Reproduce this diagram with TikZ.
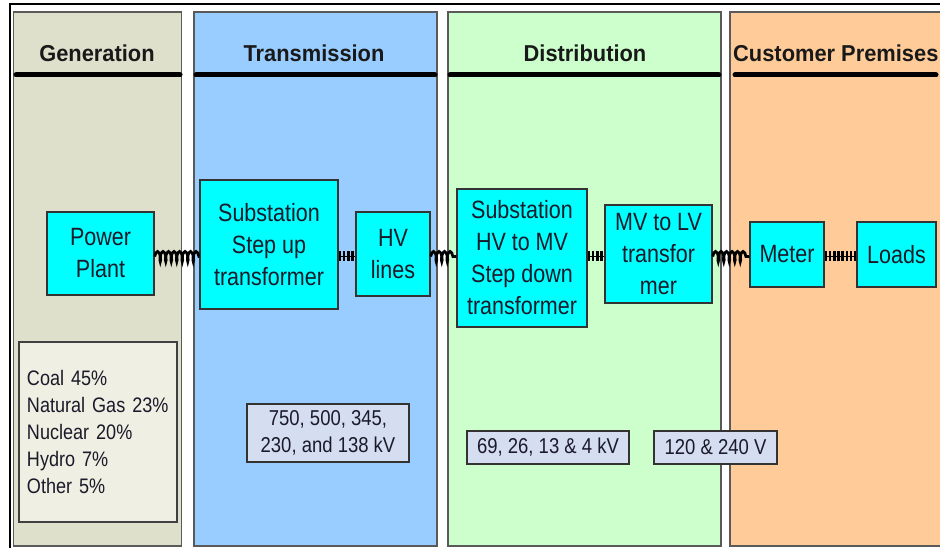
\documentclass[tikz,border=0pt]{standalone}
\usepackage{fontspec}
\setmainfont{Liberation Sans}[FakeStretch=0.86]
\newfontfamily\titlefont{Liberation Sans}[FakeStretch=0.95]
\usetikzlibrary{decorations.pathmorphing}
\definecolor{genc}{HTML}{DFE0CC}
\definecolor{mixc}{HTML}{EFEFE3}
\definecolor{trac}{HTML}{99CCFF}
\definecolor{disc}{HTML}{CCFFCC}
\definecolor{cusc}{HTML}{FFCC99}
\definecolor{boxc}{HTML}{00FFFF}
\definecolor{volc}{HTML}{D5DDF0}
\definecolor{edgec}{HTML}{5A5A5A}
\definecolor{txtc}{HTML}{1A1A2A}
\tikzset{
  panel/.style={draw=edgec, line width=1.5pt},
  title/.style={font=\titlefont\bfseries\fontsize{23}{26}\selectfont, text=black!90, inner sep=0pt},
  hdr/.style={line width=5pt, black, line cap=round},
  cbox/.style={draw=black!80, line width=1.3pt, fill=boxc, text=txtc, align=center,
     inner sep=0pt, font=\fontsize{25}{32}\selectfont},
  vbox/.style={draw=black!80, line width=1.3pt, fill=volc, text=txtc, align=center,
     inner sep=0pt, font=\fontsize{21.5}{27}\selectfont},
  wire/.style={line width=2.8pt, black, decorate,
     decoration={coil, amplitude=5pt, segment length=5.5pt, aspect=0.3}},
  barwire/.style={line width=10pt, black, dash pattern=on 2.6pt off 1.6pt,
     postaction={draw, line width=1.5pt, solid}},
}
\begin{document}
\begin{tikzpicture}[x=1pt,y=-1pt]
\useasboundingbox (0,0) rectangle (940,548);
\clip (0,0) rectangle (940,548);
\fill[white] (0,0) rectangle (940,548);
\draw[black, line width=1.2pt] (10,560) -- (10,4) -- (960,4);
% panels
\draw[panel, fill=genc] (13.5,12) rectangle (181.5,546);
\draw[panel, fill=trac] (194,12) rectangle (437,546);
\draw[panel, fill=disc] (448,12) rectangle (721,546);
\draw[panel, fill=cusc] (730,12) rectangle (960,546);
% titles
\node[title] (tgen) at (97,53) {Generation};
\node[title] (ttra) at (314,53) {Transmission};
\node[title] (tdis) at (585,53) {Distribution};
\node[title, anchor=west] (tcus) at (733,53) {Customer Premises};
\draw[hdr] (16,75) -- (180,75);
\draw[hdr] (196,75) -- (435,75);
\draw[hdr] (450,75) -- (719,75);
\draw[hdr] (735,75) -- (936,75);
% main boxes
\node[cbox, minimum width=107pt, minimum height=83pt] (pp) at (100.5,253.5) {Power\\Plant};
\node[cbox, minimum width=138pt, minimum height=129pt] (ss1) at (269,244.5) {Substation\\Step up\\transformer};
\node[cbox, minimum width=74pt, minimum height=84pt] (hv) at (393,254) {HV\\lines};
\node[cbox, minimum width=130pt, minimum height=138pt] (ss2) at (522,258) {Substation\\HV to MV\\Step down\\transformer};
\node[cbox, minimum width=107pt, minimum height=98pt] (mvlv) at (658.5,254) {MV to LV\\transfor\\mer};
\node[cbox, minimum width=74pt, minimum height=65pt] (meter) at (787,254.5) {Meter};
\node[cbox, minimum width=79pt, minimum height=65pt] (loads) at (896.5,254.5) {Loads};
% connectors
\coordinate (wy) at (0,256.5);
\draw[wire] (pp.east |- wy) -- (ss1.west |- wy);
\draw[barwire] (ss1.east |- wy) -- (hv.west |- wy);
\draw[wire] (hv.east |- wy) -- (ss2.west |- wy);
\draw[barwire] (ss2.east |- wy) -- (mvlv.west |- wy);
\draw[wire] (mvlv.east |- wy) -- (meter.west |- wy);
\draw[barwire] (meter.east |- wy) -- (loads.west |- wy);
% fuel mix
\node[draw=black!75, line width=1.3pt, fill=mixc, text=txtc, align=left,
  minimum width=158pt, minimum height=180pt, text width=142pt, inner xsep=8pt,
  font=\fontsize{21}{27}\selectfont] (mix) at (98,432)
  {Coal 45\%\\Natural Gas 23\%\\Nuclear 20\%\\Hydro 7\%\\Other 5\%};
% voltages
\node[vbox, minimum width=162pt, minimum height=58pt] (v1) at (328,433) {750, 500, 345,\\230, and 138 kV};
\node[vbox, minimum width=162pt, minimum height=33pt] (v2) at (548,447.5) {69, 26, 13 \& 4 kV};
\node[vbox, minimum width=123pt, minimum height=33pt] (v3) at (715.5,447.5) {120 \& 240 V};
\end{tikzpicture}
\end{document}
